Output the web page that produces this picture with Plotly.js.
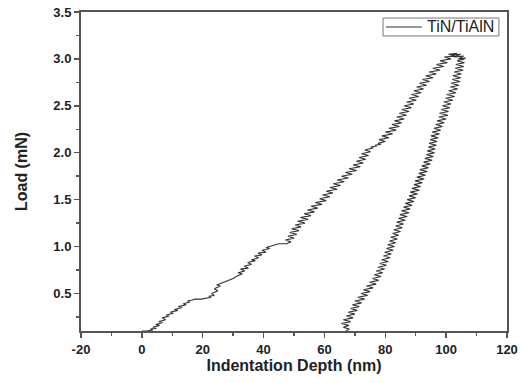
<!DOCTYPE html>
<html>
<head>
<meta charset="utf-8">
<script src="https://cdn.plot.ly/plotly-3.0.1.min.js"></script>
<style>html,body{margin:0;padding:0;background:#fff;}#chart{width:522px;height:383px;}</style>
</head>
<body>
<div id="chart"></div>
<script>
// Loading branch: indentation depth (nm) and load (mN)
const loadDepth = [0,1.5,3.6,2.8,4.8,3.6,5.8,4.6,6.8,5.6,7.8,6.7,9.0,8.0,10.4,9.3,11.8,10.7,13.2,12.0,14.6,13.6,15.8,15.0,16.5,17.5,19.5,21.3,22.8,22.0,23.8,22.9,25.0,23.8,25.8,24.6,26.2,28.0,30.0,31.0,33.0,31.6,33.8,32.4,35.0,33.6,36.0,34.8,37.3,36.0,38.4,37.0,39.5,38.2,40.8,39.5,42.0,40.9,43.0,43.5,45.0,47.6,
  49.0,47.2,50.0,48.0,50.9,48.6,51.6,49.2,52.3,50.4,53.6,51.2,54.6,52.1,55.6,53.3,56.7,54.4,57.8,55.6,59.2,57.0,60.6,58.4,61.8,59.4,62.8,60.6,64.2,61.8,65.3,62.9,66.5,64.2,67.9,65.6,69.2,66.9,70.6,68.1,71.8,69.4,72.8,70.5,73.6,71.4,74.5,72.2,75.2,73.3,76.0,75.2,77.0,76.8,78.6,77.6,80.0,78.0,81.2,78.9,82.4,80.0,83.6,81.2,84.6,82.2,85.4,83.0,86.2,83.8,87.0,84.6,87.8,85.4,88.6,86.2,89.4,87.0,90.2,87.8,91.0,88.6,91.8,89.4,92.6,90.3,93.6,91.2,94.6,92.2,95.7,93.3,96.8,94.4,98.0,95.6,99.2,96.8,100.4,98.0,101.6,99.4,102.8,100.8,103.6,101.8,104.8,102.6,105.8,104.0,106.4,105.0];
const loadForce = [0.10,0.10,0.11,0.12,0.13,0.14,0.16,0.17,0.19,0.20,0.22,0.24,0.26,0.27,0.29,0.30,0.32,0.33,0.35,0.36,0.38,0.39,0.41,0.42,0.43,0.44,0.44,0.45,0.46,0.47,0.48,0.50,0.53,0.55,0.58,0.59,0.61,0.63,0.66,0.68,0.71,0.72,0.74,0.76,0.77,0.79,0.81,0.83,0.85,0.86,0.88,0.90,0.91,0.93,0.94,0.96,0.98,0.99,1.01,1.02,1.03,1.03,
  1.05,1.07,1.09,1.11,1.13,1.15,1.17,1.19,1.21,1.23,1.25,1.27,1.29,1.31,1.33,1.35,1.37,1.39,1.41,1.43,1.45,1.47,1.49,1.51,1.53,1.55,1.57,1.59,1.61,1.63,1.65,1.67,1.69,1.71,1.73,1.75,1.77,1.79,1.81,1.83,1.85,1.87,1.89,1.91,1.93,1.95,1.97,1.99,2.01,2.03,2.05,2.06,2.07,2.08,2.09,2.10,2.12,2.14,2.16,2.18,2.20,2.22,2.24,2.26,2.28,2.30,2.32,2.34,2.36,2.38,2.40,2.42,2.44,2.46,2.48,2.50,2.52,2.54,2.56,2.58,2.60,2.62,2.64,2.66,2.68,2.70,2.72,2.74,2.76,2.78,2.80,2.82,2.84,2.86,2.88,2.90,2.92,2.94,2.96,2.98,3.00,3.02,3.03,3.05,3.06,3.04,3.05,3.02,3.03,3.00,3.01,2.99];
// Unloading branch
const unloadDepth = [106.0,103.6,106.0,103.2,105.8,103.0,105.6,102.6,105.0,102.2,104.8,102.0,104.6,101.6,104.2,101.4,103.8,100.8,103.2,100.2,102.8,99.8,102.2,99.2,101.6,98.8,101.2,98.4,100.8,97.8,100.6,97.6,100.0,97.0,99.4,96.6,98.8,96.0,98.2,95.4,97.8,95.0,97.4,94.8,97.0,94.4,96.8,94.2,96.4,93.8,96.2,93.6,95.8,93.0,95.4,92.6,94.8,92.0,94.2,91.4,93.8,91.0,93.2,90.4,92.8,89.8,92.2,89.4,91.6,88.8,91.2,88.2,90.6,87.8,90.0,87.2,89.4,86.6,88.8,86.0,88.2,85.4,87.8,84.8,87.2,84.4,86.6,83.8,86.0,83.4,85.6,82.8,85.0,82.4,84.4,81.8,84.0,81.4,83.4,80.8,83.0,80.4,82.6,79.8,82.0,79.4,81.6,78.8,81.0,78.2,80.4,77.6,79.8,77.0,79.2,76.4,78.6,75.8,77.8,74.8,77.0,73.8,76.0,72.8,75.0,72.0,74.2,71.0,73.2,70.0,72.2,69.2,71.4,68.6,70.8,67.8,70.0,67.2,69.4,66.2,68.6,65.6,68.0,66.2,68.2,67.0];
const unloadForce = [3.00,2.98,2.96,2.94,2.92,2.90,2.88,2.86,2.84,2.82,2.80,2.78,2.76,2.74,2.72,2.70,2.68,2.66,2.64,2.62,2.60,2.58,2.56,2.54,2.52,2.50,2.48,2.46,2.44,2.42,2.40,2.38,2.36,2.34,2.32,2.30,2.28,2.26,2.24,2.22,2.20,2.18,2.16,2.14,2.12,2.10,2.08,2.06,2.04,2.02,2.00,1.98,1.96,1.94,1.92,1.90,1.88,1.86,1.84,1.82,1.80,1.78,1.76,1.74,1.72,1.70,1.68,1.66,1.64,1.62,1.60,1.58,1.56,1.54,1.52,1.50,1.48,1.46,1.44,1.42,1.40,1.38,1.36,1.34,1.32,1.30,1.28,1.26,1.24,1.22,1.20,1.18,1.16,1.14,1.12,1.10,1.08,1.06,1.04,1.02,1.00,0.98,0.96,0.94,0.92,0.90,0.88,0.86,0.84,0.82,0.80,0.78,0.76,0.74,0.72,0.70,0.68,0.66,0.64,0.62,0.60,0.58,0.56,0.54,0.52,0.50,0.48,0.46,0.44,0.42,0.40,0.38,0.36,0.34,0.32,0.30,0.28,0.26,0.24,0.22,0.20,0.18,0.16,0.14,0.12,0.10];
const seriesName = 'TiN/TiAlN';
const xTickVals = [-20,0,20,40,60,80,100,120];
const xTickText = ['-20','0','20','40','60','80','100','120'];
const yTickVals = [0.5,1.0,1.5,2.0,2.5,3.0,3.5];
const yTickText = ['0.5','1.0','1.5','2.0','2.5','3.0','3.5'];

const xs = loadDepth.concat(unloadDepth);
const ys = loadForce.concat(unloadForce);

const fam = 'Liberation Sans, Arial, sans-serif';
const axisFont = {family:fam, size:13, color:'#222', weight:'bold'};
const titleFont = {family:fam, size:16, color:'#222', weight:'bold'};
const lineColor = '#333';

Plotly.newPlot('chart', [{
  x: xs, y: ys, type:'scatter', mode:'lines', name: seriesName,
  line:{color:lineColor, width:1.1}, showlegend:false
}], {
  width:522, height:383,
  margin:{l:81, r:15, t:12, b:52},
  paper_bgcolor:'#fff', plot_bgcolor:'#fff',
  showlegend:false,
  // compact legend box drawn in the plot area (matches reference legend size)
  shapes:[
    {type:'rect', xref:'x domain', yref:'y domain', x0:0.709, x1:0.981, y0:0.925, y1:0.981,
     line:{color:'#777', width:1}, fillcolor:'#fff', layer:'above'},
    {type:'line', xref:'x domain', yref:'y domain', x0:0.716, x1:0.800, y0:0.953, y1:0.953,
     line:{color:lineColor, width:1.1}, layer:'above'}
  ],
  annotations:[
    {text:seriesName, xref:'x domain', yref:'y domain', x:0.808, y:0.953, xanchor:'left', yanchor:'middle',
     showarrow:false, font:{family:fam, size:16, color:'#222'}}
  ],
  xaxis:{range:[-20,120], tickvals:xTickVals, ticktext:xTickText, ticks:'outside', ticklen:5, tickwidth:1.5, tickcolor:'#555',
    showline:true, linecolor:'#555', linewidth:2, mirror:true, showgrid:false, zeroline:false,
    tickfont:axisFont,
    minor:{dtick:10, tick0:0, ticks:'outside', ticklen:3, tickcolor:'#555', showgrid:false},
    title:{text:'Indentation Depth (nm)', font:titleFont, standoff:0}},
  yaxis:{range:[0.1,3.5], tickvals:yTickVals, ticktext:yTickText, ticks:'outside', ticklen:5, tickwidth:1.5, tickcolor:'#555',
    showline:true, linecolor:'#555', linewidth:2, mirror:true, showgrid:false, zeroline:false,
    tickfont:axisFont,
    minor:{dtick:0.25, tick0:0, ticks:'outside', ticklen:3, tickcolor:'#555', showgrid:false},
    title:{text:'Load (mN)', font:titleFont, standoff:22}}
}, {displayModeBar:false, staticPlot:true});
</script>
</body>
</html>
